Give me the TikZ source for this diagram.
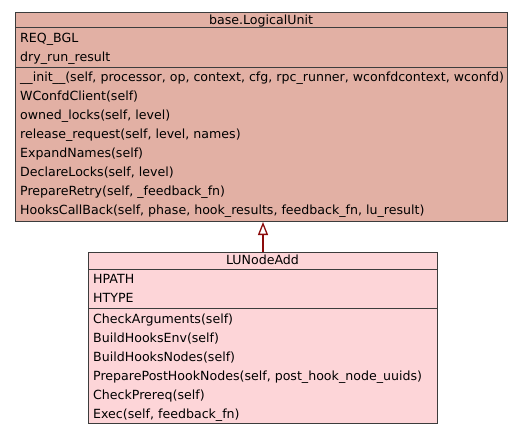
\documentclass[tikz,border=0pt]{standalone}
\usepackage{fontspec}
\setmainfont{DejaVu Sans}
\usetikzlibrary{arrows.meta}

\definecolor{baseFill}{RGB}{226,176,164}
\definecolor{subFill}{RGB}{253,213,216}
\definecolor{boxLine}{RGB}{60,60,60}
\definecolor{inheritRed}{RGB}{140,12,12}

\begin{document}
\begin{tikzpicture}[x=1bp, y=-1bp,
    classbox/.style={draw=boxLine, line width=1bp, inner sep=0pt, anchor=north west},
    member/.style={anchor=west, inner sep=0pt, text height=9.5bp, text depth=1bp,
        font=\fontsize{12.6bp}{15bp}\selectfont},
    classname/.style={member, anchor=center}]

    \useasboundingbox (0,0) rectangle (528,435);

    % Draw the base class box
    \node[classbox, fill=baseFill, minimum width=492bp, minimum height=209bp] (base) at (15,12) {};
    \draw[boxLine, line width=1bp] (15,27.5) -- (507,27.5);
    \draw[boxLine, line width=1bp] (15,67.5) -- (507,67.5);
    \node[classname] (baseName) at (261,20) {base.LogicalUnit};
    \node[member] (reqBgl) at (20,38) {REQ\_BGL};
    \node[member] (dryRun) at (20,57) {dry\_run\_result};
    \node[member] (init) at (20,77) {\_\_init\_\_(self, processor, op, context, cfg, rpc\_runner, wconfdcontext, wconfd)};
    \node[member] (wconfd) at (20,96) {WConfdClient(self)};
    \node[member] (owned) at (20,115) {owned\_locks(self, level)};
    \node[member] (release) at (20,134) {release\_request(self, level, names)};
    \node[member] (expand) at (20,153) {ExpandNames(self)};
    \node[member] (declare) at (20,172) {DeclareLocks(self, level)};
    \node[member] (retry) at (20,191) {PrepareRetry(self, \_feedback\_fn)};
    \node[member] (hooksCb) at (20,210) {HooksCallBack(self, phase, hook\_results, feedback\_fn, lu\_result)};

    % Draw the subclass box
    \node[classbox, fill=subFill, minimum width=349bp, minimum height=171bp] (nodeAdd) at (88,252) {};
    \draw[boxLine, line width=1bp] (88,269) -- (437,269);
    \draw[boxLine, line width=1bp] (88,308.5) -- (437,308.5);
    \node[classname] (nodeAddName) at (262.5,260) {LUNodeAdd};
    \node[member] (hpath) at (93,279) {HPATH};
    \node[member] (htype) at (93,298) {HTYPE};
    \node[member] (checkArgs) at (93,319) {CheckArguments(self)};
    \node[member] (hooksEnv) at (93,338) {BuildHooksEnv(self)};
    \node[member] (hooksNodes) at (93,357) {BuildHooksNodes(self)};
    \node[member] (postHook) at (93,376) {PreparePostHookNodes(self, post\_hook\_node\_uuids)};
    \node[member] (prereq) at (93,395) {CheckPrereq(self)};
    \node[member] (exec) at (93,414) {Exec(self, feedback\_fn)};

    % Inheritance arrow
    \draw[inheritRed, line width=2.5bp,
        -{Triangle[open, length=13bp, width=10bp, line width=1.3bp]}]
        (nodeAdd.north) -- (nodeAdd.north |- base.south);

\end{tikzpicture}
\end{document}
